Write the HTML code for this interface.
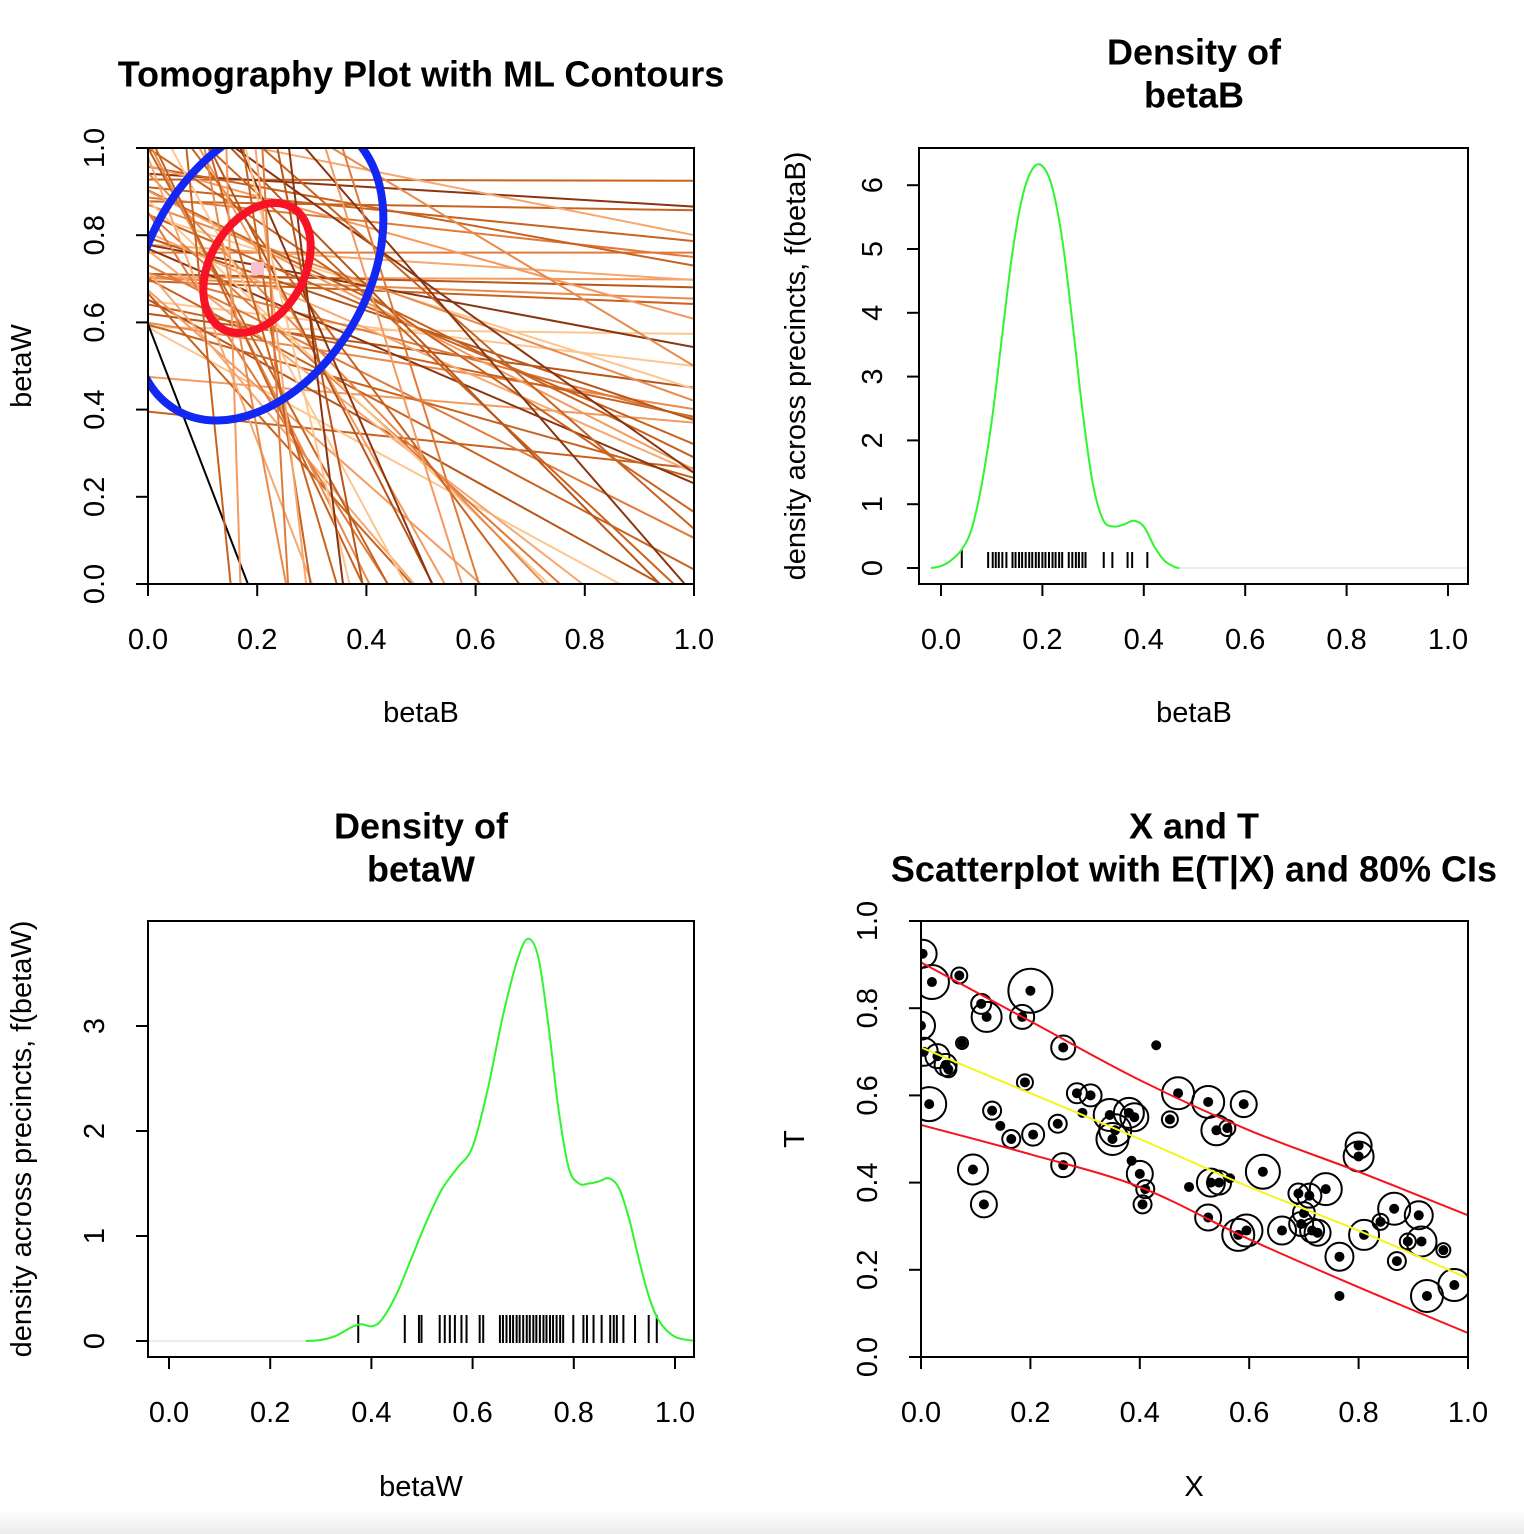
<!DOCTYPE html>
<html><head><meta charset="utf-8"><style>
html,body{margin:0;padding:0;background:#fff;overflow:hidden}
svg{display:block}
text{font-family:"Liberation Sans",Arial,sans-serif;fill:#000}
</style></head><body>
<svg id="chart" width="1524" height="1534" viewBox="0 0 1524 1534" xmlns="http://www.w3.org/2000/svg">
<defs>
<clipPath id="c1"><rect x="148" y="148" width="546" height="436"/></clipPath>
<clipPath id="c4"><rect x="921" y="921" width="547" height="436"/></clipPath>
<linearGradient id="bg" x1="0" y1="0" x2="0" y2="1"><stop offset="0" stop-color="#fff"/><stop offset="1" stop-color="#ececec"/></linearGradient>
</defs>
<rect x="0" y="1510" width="1524" height="24" fill="url(#bg)"/>
<g id="g1"></g>
<g id="g2"></g>
<g id="g3"></g>
<g id="g4"></g>
</svg>
<script>
// Scatter data (X, T) and circle sizes
const pointX = [0.003,0.0,0.005,0.02,0.015,0.03,0.045,0.05,0.07,0.075,0.11,0.12,0.095,0.115,0.13,0.145,0.165,0.185,0.19,0.2,0.205,0.25,0.26,0.26,0.285,0.295,0.31,0.345,0.35,0.355,0.38,0.385,0.39,0.40,0.405,0.41,0.43,0.455,0.47,0.49,0.525,0.53,0.525,0.54,0.545,0.56,0.565,0.58,0.59,0.595,0.625,0.66,0.69,0.695,0.70,0.71,0.715,0.725,0.74,0.765,0.765,0.80,0.80,0.81,0.84,0.865,0.87,0.89,0.91,0.915,0.925,0.955,0.975];
const pointT = [0.925,0.76,0.70,0.86,0.58,0.69,0.67,0.66,0.875,0.72,0.81,0.78,0.43,0.35,0.565,0.53,0.50,0.78,0.63,0.84,0.51,0.535,0.71,0.44,0.605,0.56,0.60,0.555,0.50,0.52,0.56,0.45,0.55,0.42,0.35,0.385,0.715,0.545,0.605,0.39,0.585,0.40,0.32,0.52,0.40,0.525,0.41,0.28,0.58,0.29,0.425,0.29,0.375,0.305,0.33,0.37,0.29,0.285,0.385,0.23,0.14,0.485,0.46,0.28,0.31,0.34,0.22,0.265,0.325,0.265,0.14,0.245,0.165];
const pointSize = [14,14,14,17,17,12,11,8,8,6,10,15,15,13,9,0,9,12,8,22,11,9,12,12,10,0,11,16,16,16,15,0,14,13,9,9,0,8,16,0,16,14,13,15,12,8,0,16,13,16,17,14,10,12,11,12,12,13,16,14,0,13,15,15,8,16,9,8,14,15,16,7,16];
// Fitted E(T|X) and 80% CI curves
const fitX = [0,0.2,0.4,0.6,0.8,1.0];
const fitMean = [0.71,0.605,0.50,0.39,0.29,0.18];
const fitUpper = [0.905,0.77,0.635,0.52,0.425,0.325];
const fitLower = [0.532,0.465,0.39,0.27,0.16,0.055];
// Density of betaB
const dBx = [-0.02,0.0,0.02,0.04,0.06,0.08,0.1,0.12,0.14,0.16,0.18,0.2,0.22,0.24,0.26,0.28,0.3,0.32,0.34,0.36,0.38,0.4,0.42,0.44,0.46,0.47];
const dBy = [0,0.03,0.12,0.28,0.6,1.3,2.3,3.6,4.9,5.8,6.25,6.3,5.95,5.1,3.8,2.4,1.3,0.75,0.65,0.68,0.74,0.65,0.35,0.12,0.02,0];
const rugB = [0.041,0.093,0.102,0.108,0.114,0.121,0.129,0.141,0.147,0.154,0.160,0.167,0.174,0.180,0.187,0.193,0.200,0.206,0.213,0.220,0.226,0.233,0.239,0.252,0.259,0.266,0.272,0.279,0.285,0.321,0.338,0.368,0.377,0.407];
// Density of betaW
const dWx = [0.27,0.3,0.33,0.36,0.38,0.4,0.42,0.45,0.48,0.51,0.54,0.57,0.6,0.63,0.66,0.69,0.71,0.73,0.75,0.77,0.79,0.81,0.83,0.85,0.87,0.89,0.91,0.93,0.95,0.97,1.0,1.04];
const dWy = [0,0.01,0.05,0.13,0.16,0.14,0.2,0.45,0.8,1.15,1.45,1.65,1.85,2.4,3.1,3.65,3.83,3.65,3.0,2.2,1.65,1.5,1.5,1.52,1.55,1.45,1.15,0.75,0.4,0.18,0.04,0];
const rugW = [0.374,0.466,0.494,0.499,0.535,0.545,0.555,0.565,0.578,0.588,0.614,0.621,0.654,0.660,0.667,0.674,0.680,0.687,0.693,0.700,0.707,0.713,0.720,0.726,0.733,0.740,0.746,0.753,0.759,0.766,0.773,0.779,0.799,0.819,0.826,0.839,0.855,0.872,0.879,0.885,0.898,0.921,0.948,0.964];
const ticks01 = ["0.0","0.2","0.4","0.6","0.8","1.0"];
const ticksB = ["0","1","2","3","4","5","6"];
const ticksW = ["0","1","2","3"];
const lineColors = ["#c8621f","#e07a3a","#f39a5f","#c8621f","#fdc68f","#b8561a","#e88a4c","#c8621f","#8a3410","#f6a870"];

const NS="http://www.w3.org/2000/svg";
function mk(parent,tag,attrs,txt){const e=document.createElementNS(NS,tag);for(const k in attrs)e.setAttribute(k,attrs[k]);if(txt!==undefined)e.textContent=txt;parent.appendChild(e);return e;}
const FS=29, TS=36;
function xAxis(g,sx,y0,labels,vals,ly,name){
  const e=mk(g,"line",{x1:sx(vals[0]),x2:sx(vals[vals.length-1]),y1:y0,y2:y0,stroke:"#000","stroke-width":2});
  
  
  vals.forEach((v,i)=>{
    const t=mk(g,"line",{x1:sx(v),x2:sx(v),y1:y0,y2:y0+12,stroke:"#000","stroke-width":2});
    
    
    const l=mk(g,"text",{x:sx(v),y:ly,"font-size":FS,"text-anchor":"middle","dominant-baseline":"central"},labels[i]);
    
    
  });
}
function yAxis(g,sy,x0,labels,vals,lx,name){
  const e=mk(g,"line",{x1:x0,x2:x0,y1:sy(vals[0]),y2:sy(vals[vals.length-1]),stroke:"#000","stroke-width":2});
  
  
  vals.forEach((v,i)=>{
    const t=mk(g,"line",{x1:x0-12,x2:x0,y1:sy(v),y2:sy(v),stroke:"#000","stroke-width":2});
    
    
    const l=mk(g,"text",{x:lx,y:sy(v),"font-size":FS,"text-anchor":"middle","dominant-baseline":"central",transform:`rotate(-90 ${lx} ${sy(v)})`},labels[i]);
    
    
  });
}
function label(g,x,y,txt,opts,name){
  const a=Object.assign({x:x,y:y,"font-size":FS,"text-anchor":"middle","dominant-baseline":"central"},opts||{});
  const l=mk(g,"text",a,txt);
  
  
  return l;
}
function box(g,x,y,w,h,name){
  const b=mk(g,"rect",{x:x,y:y,width:w,height:h,fill:"none",stroke:"#000","stroke-width":2});
  
  
}
function smooth(p){
  let d="M"+p[0][0].toFixed(1)+","+p[0][1].toFixed(1);
  for(let i=0;i<p.length-1;i++){
    const p0=p[Math.max(0,i-1)],p1=p[i],p2=p[i+1],p3=p[Math.min(p.length-1,i+2)];
    const c1=[p1[0]+(p2[0]-p0[0])/6,p1[1]+(p2[1]-p0[1])/6];
    const c2=[p2[0]-(p3[0]-p1[0])/6,p2[1]-(p3[1]-p1[1])/6];
    d+=` C${c1[0].toFixed(1)},${c1[1].toFixed(1)} ${c2[0].toFixed(1)},${c2[1].toFixed(1)} ${p2[0].toFixed(1)},${p2[1].toFixed(1)}`;
  }
  return d;
}
const v01=[0,0.2,0.4,0.6,0.8,1.0];

// Panel 1
(function(){
  const g=document.getElementById("g1");
  const sx=v=>148+546*v, sy=v=>584-436*v;
  const lg=mk(g,"g",{"clip-path":"url(#c1)"});
  
  
  pointX.forEach((X,i)=>{
    const T=pointT[i];
    const a=T/(1-X), s=X/(1-X);
    let col=lineColors[i%lineColors.length];
    if(i===60) col="#000";
    const l=mk(lg,"line",{x1:sx(0),y1:sy(a),x2:sx(1),y2:sy(a-s),stroke:col,"stroke-width":2});
    
    
  });
  const eg=mk(g,"g",{"clip-path":"url(#c1)"});
  
  
  const b=mk(eg,"ellipse",{cx:258,cy:269,rx:163,ry:110,transform:"rotate(-60 258 269)",fill:"none",stroke:"#1228f2","stroke-width":8});
  
  
  const r=mk(eg,"ellipse",{cx:257,cy:268,rx:70,ry:47,transform:"rotate(-60 257 268)",fill:"none",stroke:"#f71325","stroke-width":8});
  
  
  const p=mk(g,"rect",{x:251,y:262,width:13,height:13,fill:"#fbc0cb"});
  
  
  box(g,148,148,546,436,'tomography-plot-box');
  xAxis(g,sx,584,ticks01,v01,640,'tomography');
  yAxis(g,sy,148,ticks01,v01,95,'tomography');
  label(g,421,74,"Tomography Plot with ML Contours",{"font-size":TS,"font-weight":"bold"},'tomography-title');
  label(g,421,713,"betaB",{},'tomography-x-title');
  label(g,22,366,"betaW",{transform:"rotate(-90 22 366)"},'tomography-y-title');
})();

// Panel 2
(function(){
  const g=document.getElementById("g2");
  const sx=v=>941+507*v, sy=v=>568-63.8*v;
  const base=mk(g,"line",{x1:sx(0.47),x2:1468,y1:sy(0),y2:sy(0),stroke:"#e6e6e6","stroke-width":1.5});
  
  
  rugB.forEach((v,i)=>{
    const t=mk(g,"line",{x1:sx(v),x2:sx(v),y1:i===0?550:552,y2:568,stroke:"#000","stroke-width":2});
    
    
  });
  const c=mk(g,"path",{d:smooth(dBx.map((x,i)=>[sx(x),sy(dBy[i])])),fill:"none",stroke:"#2ef52e","stroke-width":2});
  
  
  box(g,919,148,549,436,'betaB-plot-box');
  xAxis(g,sx,584,ticks01,v01,640,'betaB');
  yAxis(g,sy,919,ticksB,[0,1,2,3,4,5,6],873,'betaB');
  label(g,1194,52,"Density of",{"font-size":TS,"font-weight":"bold"},'betaB-title-line1');
  label(g,1194,95,"betaB",{"font-size":TS,"font-weight":"bold"},'betaB-title-line2');
  label(g,1194,713,"betaB",{},'betaB-x-title');
  label(g,796,366,"density across precincts, f(betaB)",{transform:"rotate(-90 796 366)"},'betaB-y-title');
})();

// Panel 3
(function(){
  const g=document.getElementById("g3");
  const sx=v=>169+506*v, sy=v=>1341-105*v;
  const base=mk(g,"line",{x1:148,x2:sx(0.27),y1:sy(0),y2:sy(0),stroke:"#e6e6e6","stroke-width":1.5});
  
  
  rugW.forEach((v,i)=>{
    const t=mk(g,"line",{x1:sx(v),x2:sx(v),y1:1315,y2:1343,stroke:"#000","stroke-width":2});
    
    
  });
  const c=mk(g,"path",{d:smooth(dWx.map((x,i)=>[sx(x),sy(dWy[i])])),fill:"none",stroke:"#2ef52e","stroke-width":2});
  
  
  box(g,148,921,546,436,'betaW-plot-box');
  xAxis(g,sx,1357,ticks01,v01,1413,'betaW');
  yAxis(g,sy,148,ticksW,[0,1,2,3],95,'betaW');
  label(g,421,826,"Density of",{"font-size":TS,"font-weight":"bold"},'betaW-title-line1');
  label(g,421,869,"betaW",{"font-size":TS,"font-weight":"bold"},'betaW-title-line2');
  label(g,421,1487,"betaW",{},'betaW-x-title');
  label(g,22,1139,"density across precincts, f(betaW)",{transform:"rotate(-90 22 1139)"},'betaW-y-title');
})();

// Panel 4
(function(){
  const g=document.getElementById("g4");
  const sx=v=>921+547*v, sy=v=>1357-436*v;
  const cg=mk(g,"g",{"clip-path":"url(#c4)"});
  
  
  pointX.forEach((X,i)=>{
    const d=mk(cg,"circle",{cx:sx(X),cy:sy(pointT[i]),r:5,fill:"#000"});
    
    
    if(pointSize[i]>0){
      const o=mk(cg,"circle",{cx:sx(X),cy:sy(pointT[i]),r:pointSize[i],fill:"none",stroke:"#000","stroke-width":2});
      
      
    }
  });
  [[fitUpper,"#f5141e","ci-upper-line"],[fitLower,"#f5141e","ci-lower-line"],[fitMean,"#f5f51e","expected-t-line"]].forEach(s=>{
    const p=mk(cg,"path",{d:smooth(fitX.map((x,i)=>[sx(x),sy(s[0][i])])),fill:"none",stroke:s[1],"stroke-width":2});
    
    
  });
  box(g,921,921,547,436,'scatter-plot-box');
  xAxis(g,sx,1357,ticks01,v01,1413,'scatter');
  yAxis(g,sy,921,ticks01,v01,868,'scatter');
  label(g,1194,826,"X and T",{"font-size":TS,"font-weight":"bold"},'scatter-title-line1');
  label(g,1194,869,"Scatterplot with E(T|X) and 80% CIs",{"font-size":TS,"font-weight":"bold"},'scatter-title-line2');
  label(g,1194,1487,"X",{},'scatter-x-title');
  label(g,795,1139,"T",{transform:"rotate(-90 795 1139)"},'scatter-y-title');
})();
</script>
</body></html>
